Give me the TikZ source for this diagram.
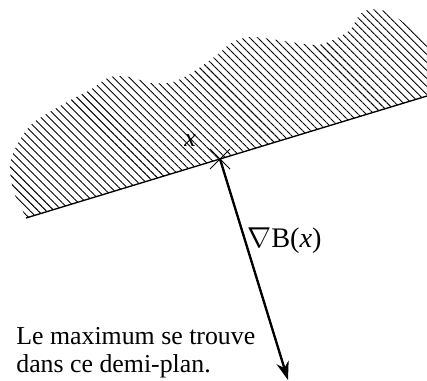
\documentclass[tikz,border=0pt]{standalone}
\usepackage{fontspec}
\setmainfont{Liberation Serif}
\usepackage{tikz}
\usetikzlibrary{arrows.meta, patterns.meta, positioning}

\tikzset{
  hatched/.style={pattern={Lines[angle=-45, distance=3.4pt, line width=0.55pt]}},
  edgeline/.style={line width=0.8pt},
  gradarrow/.style={line width=1.4pt, -{Stealth[length=11pt, width=7.5pt]}},
  crossmark/.style={line width=0.6pt},
  lbl/.style={font=\fontsize{15.5}{16.5}\selectfont, inner sep=0pt}
}

\begin{document}
\begin{tikzpicture}[x=0.6pt, y=-0.6pt]
    \useasboundingbox (0,0) rectangle (427,381);

    \coordinate (left) at (26,218);
    \coordinate (right) at (427,96);
    \coordinate (xpt) at (220,159);
    \coordinate (tip) at (288,380);

    % hatched half-plane with a wavy top
    \fill[hatched] (left) -- (right) -- (427,43) -- plot[smooth] coordinates {
      (427,43) (410,27) (385,11) (367,10) (358,17) (350,30) (333,40) (317,45)
      (290,42) (253,37) (233,42) (213,58) (193,72) (173,82) (150,83) (130,77)
      (110,77) (90,90) (67,102) (33,123) (17,145) (10,165) (13,190) (20,205)
      (26,218)} -- cycle;
    \draw[edgeline] (left) -- (right);

    % the point x
    \draw[crossmark] (xpt) +(-10,-10) -- +(10,10);
    \draw[crossmark] (xpt) +(-10,10) -- +(10,-10);
    \node[lbl] (xlab) at (190,141) {\textit{x}};

    % gradient
    \draw[gradarrow] (xpt) -- (tip);
    \node[lbl, anchor=base west, font=\fontsize{17}{18}\selectfont] (grad) at (247,247)
      {$\nabla$B(\textit{x})};

    \node[lbl, anchor=base west, align=left] (note) at (16,372)
      {Le maximum se trouve\\dans ce demi-plan.};
\end{tikzpicture}
\end{document}
